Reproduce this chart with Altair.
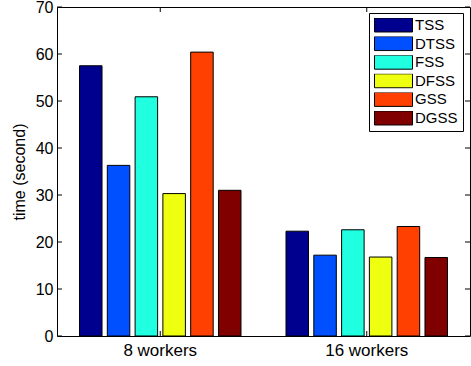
import altair as alt
import pandas as pd

# Grouped bar chart: scheduling time per method for 8 and 16 workers
groups = ["8 workers", "16 workers"]
methods = ["TSS", "DTSS", "FSS", "DFSS", "GSS", "DGSS"]
times_8 = [57.5, 36.3, 50.9, 30.3, 60.4, 31.0]
times_16 = [22.3, 17.2, 22.6, 16.8, 23.3, 16.7]
colors = ["#00008F", "#0050FF", "#20FFDF", "#EFFF10", "#FF4000", "#800000"]
y_ticks = [0, 10, 20, 30, 40, 50, 60, 70]

rows = []
for g, vals in zip(groups, [times_8, times_16]):
    for m, v in zip(methods, vals):
        rows.append({"group": g, "method": m, "time": v})
df = pd.DataFrame(rows)

W, H = 413, 329
FONT = "Liberation Sans"
y_scale = alt.Scale(domain=[0, 70], nice=False, zero=True)
x_scale = alt.Scale(paddingInner=0, paddingOuter=0)

# flat rectangular legend swatch
swatch = "M-1,-0.368L1,-0.368L1,0.368L-1,0.368Z"

bars = alt.Chart(df).mark_bar(stroke="black", strokeWidth=1).encode(
    x=alt.X("group:N", sort=groups, scale=x_scale,
            axis=alt.Axis(title=None, labelAngle=0, ticks=False, domain=False,
                          labelFontSize=17, labelFont=FONT, labelColor="black",
                          labelPadding=6)),
    xOffset=alt.XOffset("method:N", sort=methods,
                        scale=alt.Scale(paddingInner=0.19, paddingOuter=0.81)),
    y=alt.Y("time:Q", scale=y_scale,
            axis=alt.Axis(values=y_ticks, title="time (second)", grid=False,
                          ticks=False, domain=False, labelFontSize=16,
                          labelFont=FONT, labelColor="black", labelPadding=4,
                          titleFont=FONT, titleFontSize=16,
                          titleFontWeight="normal", titleColor="black",
                          titlePadding=8)),
    color=alt.Color("method:N", sort=methods,
                    scale=alt.Scale(domain=methods, range=colors),
                    legend=alt.Legend(orient="none", legendX=312, legendY=6,
                                      title=None, symbolType=swatch,
                                      symbolSize=1444, symbolStrokeColor="black",
                                      symbolStrokeWidth=1, symbolOpacity=1,
                                      clipHeight=14, rowPadding=3.6,
                                      labelFont=FONT, labelFontSize=15,
                                      labelColor="black", labelOffset=2,
                                      padding=5, strokeColor="black",
                                      fillColor="white")),
)

tick_df = pd.DataFrame({"v": y_ticks})
y_ticks_left = alt.Chart(tick_df).mark_rule(color="black", strokeWidth=1).encode(
    y=alt.Y("v:Q", scale=y_scale, axis=None),
    x=alt.value(0), x2=alt.value(5),
)
y_ticks_right = alt.Chart(tick_df).mark_rule(color="black", strokeWidth=1).encode(
    y=alt.Y("v:Q", scale=y_scale, axis=None),
    x=alt.value(W - 5), x2=alt.value(W),
)

grp_df = pd.DataFrame({"group": groups})
x_ticks_bottom = alt.Chart(grp_df).mark_rule(color="black", strokeWidth=1).encode(
    x=alt.X("group:N", sort=groups, scale=x_scale, axis=None),
    y=alt.value(H - 5), y2=alt.value(H),
)
x_ticks_top = alt.Chart(grp_df).mark_rule(color="black", strokeWidth=1).encode(
    x=alt.X("group:N", sort=groups, scale=x_scale, axis=None),
    y=alt.value(0), y2=alt.value(5),
)

chart = alt.layer(
    bars, y_ticks_left, y_ticks_right, x_ticks_bottom, x_ticks_top
).resolve_axis(
    x="independent", y="independent"
).properties(
    width=W, height=H,
    autosize=alt.AutoSizeParams(type="none"),
    padding={"left": 57, "top": 7, "right": 1, "bottom": 30},
    background="white",
).configure_view(stroke="black", strokeWidth=1)

chart.save("out.html", embed_options={"renderer": "svg", "actions": False})
